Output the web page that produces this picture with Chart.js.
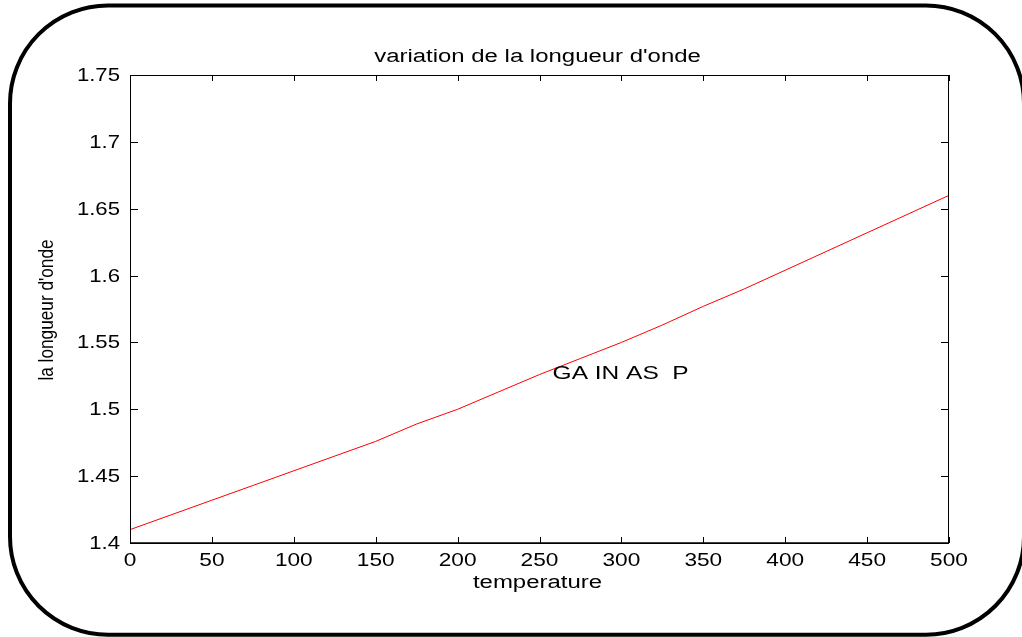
<!DOCTYPE html>
<html>
<head>
<meta charset="utf-8">
<script src="https://cdn.jsdelivr.net/npm/chart.js@4/dist/chart.umd.min.js"></script>
<style>
  html, body { margin: 0; padding: 0; background: #ffffff; }
  #c { display: block; }
</style>
</head>
<body>
<canvas id="c" width="1022" height="637"></canvas>
<script>
// ---- data ----
const temperatures = [0, 25, 50, 75, 100, 125, 150, 175, 200, 225, 250, 275, 300, 325, 350, 375, 400, 425, 450, 475, 500];
const wavelengths  = [1.410, 1.421, 1.432, 1.443, 1.454, 1.465, 1.476, 1.489, 1.500, 1.513, 1.526, 1.538, 1.550, 1.563, 1.577, 1.590, 1.604, 1.618, 1.632, 1.646, 1.660];
const xTicks = [0, 50, 100, 150, 200, 250, 300, 350, 400, 450, 500];
const yTicks = [1.4, 1.45, 1.5, 1.55, 1.6, 1.65, 1.7, 1.75];
const yTickLabels = ['1.4', '1.45', '1.5', '1.55', '1.6', '1.65', '1.7', '1.75'];
const titleText = "variation de la longueur d'onde";
const xTitle = 'temperature';
const yTitle = "la longueur d'onde";
const noteText = 'GA IN AS  P';
const noteX = 258;
const noteY = 1.523;

const FONT = '"Liberation Sans", Arial, Helvetica, sans-serif';

function stretchedText(ctx, txt, x, y, size, align, baseline, sx) {
  ctx.save();
  ctx.translate(x, y);
  ctx.scale(sx, 1);
  ctx.font = size + 'px ' + FONT;
  ctx.textAlign = align;
  ctx.textBaseline = baseline;
  ctx.fillStyle = '#000';
  ctx.fillText(txt, 0, 0);
  ctx.restore();
}

const decor = {
  id: 'decor',
  beforeDraw(chart) {
    const ctx = chart.ctx;
    ctx.save();
    ctx.fillStyle = '#fff';
    ctx.fillRect(0, 0, chart.width, chart.height);
    ctx.restore();
  },
  afterDraw(chart) {
    const ctx = chart.ctx;
    const a = chart.chartArea;
    const xs = chart.scales.x, ys = chart.scales.y;

    // rounded outer frame
    ctx.save();
    ctx.strokeStyle = '#000';
    ctx.lineWidth = 4;
    ctx.beginPath();
    ctx.roundRect(10, 5.5, 1014, 629.2, 98);
    ctx.stroke();
    ctx.restore();

    // axes box
    ctx.save();
    ctx.strokeStyle = '#000';
    ctx.lineWidth = 1;
    ctx.strokeRect(a.left + 0.5, a.top + 0.5, a.right - a.left - 1, a.bottom - a.top);
    ctx.lineWidth = 1.6;
    ctx.beginPath();
    ctx.moveTo(a.left, a.bottom);
    ctx.lineTo(a.right, a.bottom);
    ctx.stroke();

    // ticks (inward, mirrored)
    ctx.lineWidth = 1;
    ctx.beginPath();
    xTicks.forEach(v => {
      const px = Math.round(xs.getPixelForValue(v)) + 0.5;
      ctx.moveTo(px, a.bottom); ctx.lineTo(px, a.bottom - 6);
      ctx.moveTo(px, a.top); ctx.lineTo(px, a.top + 6);
    });
    yTicks.forEach(v => {
      const py = Math.round(ys.getPixelForValue(v)) + 0.5;
      ctx.moveTo(a.left, py); ctx.lineTo(a.left + 8, py);
      ctx.moveTo(a.right, py); ctx.lineTo(a.right - 8, py);
    });
    ctx.stroke();
    ctx.restore();

    // tick labels
    xTicks.forEach(v => {
      stretchedText(ctx, String(v), xs.getPixelForValue(v), a.bottom + 23, 18, 'center', 'alphabetic', 1.26);
    });
    yTicks.forEach((v, i) => {
      stretchedText(ctx, yTickLabels[i], a.left - 10, ys.getPixelForValue(v) + 1, 18, 'right', 'middle', 1.23);
    });

    // titles
    const cx = (a.left + a.right) / 2 - 2;
    stretchedText(ctx, titleText, cx, a.top - 13, 18, 'center', 'alphabetic', 1.33);
    stretchedText(ctx, xTitle, cx, a.bottom + 45, 18, 'center', 'alphabetic', 1.33);

    // y title (rotated)
    ctx.save();
    ctx.translate(53, (a.top + a.bottom) / 2 + 1);
    ctx.rotate(-Math.PI / 2);
    ctx.scale(0.82, 1);
    ctx.font = '21px ' + FONT;
    ctx.textAlign = 'center';
    ctx.textBaseline = 'alphabetic';
    ctx.fillStyle = '#000';
    ctx.fillText(yTitle, 0, 0);
    ctx.restore();

    // annotation in data coordinates
    stretchedText(ctx, noteText, xs.getPixelForValue(noteX), ys.getPixelForValue(noteY), 18, 'left', 'alphabetic', 1.36);
  }
};

new Chart(document.getElementById('c'), {
  type: 'line',
  data: {
    datasets: [{
      data: temperatures.map((t, i) => ({ x: t, y: wavelengths[i] })),
      borderColor: '#ff0000',
      borderWidth: 1,
      pointRadius: 0,
      tension: 0,
      fill: false
    }]
  },
  options: {
    responsive: false,
    animation: false,
    devicePixelRatio: 1,
    layout: { padding: { left: 130, top: 75, right: 73, bottom: 94 } },
    plugins: { legend: { display: false }, title: { display: false }, tooltip: { enabled: false } },
    scales: {
      x: { type: 'linear', min: 0, max: 500, display: false },
      y: { type: 'linear', min: 1.4, max: 1.75, display: false }
    }
  },
  plugins: [decor]
});
</script>
</body>
</html>
